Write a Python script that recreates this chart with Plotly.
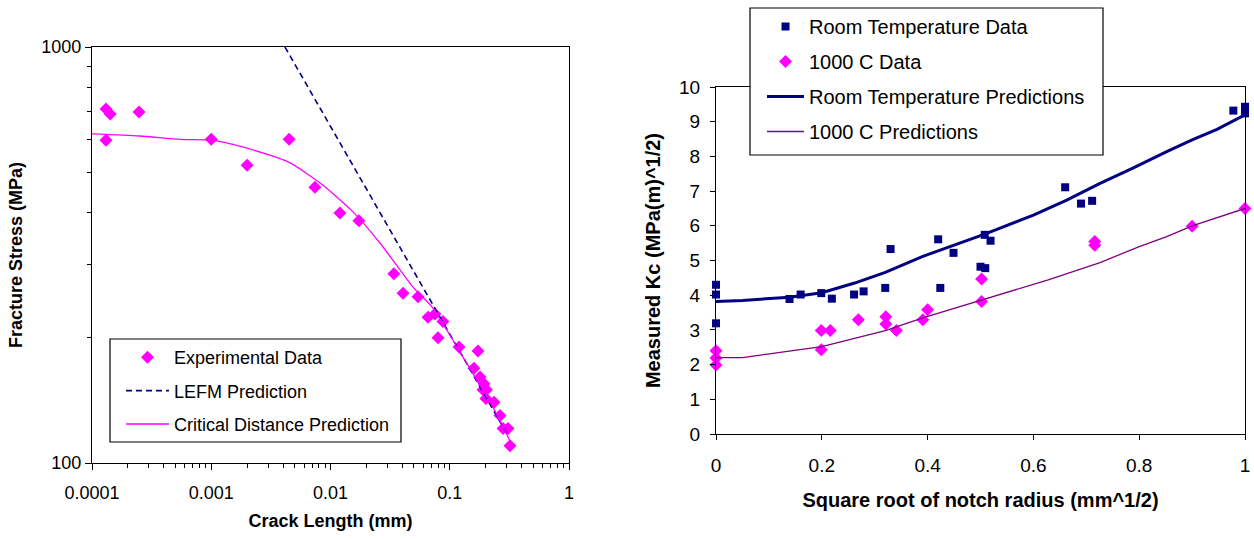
import plotly.graph_objects as go

# ---------------- Left chart data ----------------
exp_crack = [0.000131, 0.000142, 0.000248, 0.000131, 0.001, 0.002, 0.0045, 0.0074,
             0.012, 0.0173, 0.034, 0.0406, 0.0542, 0.0658, 0.0751, 0.0877, 0.0797,
             0.1197, 0.1726, 0.1596, 0.1795, 0.194, 0.190, 0.203, 0.201, 0.235,
             0.264, 0.280, 0.308, 0.320]
exp_stress = [710, 690, 698, 597, 600, 520, 600, 460,
              399, 382, 285, 256, 251, 224, 228, 219, 200,
              190, 186, 169, 161, 155, 150, 150, 143, 140,
              130, 121, 121, 110]

lefm_crack = [0.00415, 0.31]
lefm_stress = [1000, 116]

cd_crack = [0.0001, 0.00025, 0.00055, 0.001, 0.002, 0.0045, 0.0086, 0.0155,
            0.026, 0.049, 0.072, 0.115, 0.169, 0.231, 0.32]
cd_stress = [618, 611, 600, 597, 571, 528, 466, 401,
             338, 265, 236, 190, 158, 136, 113]

left_xticks = [0.0001, 0.001, 0.01, 0.1, 1]
left_xticktext = ["0.0001", "0.001", "0.01", "0.1", "1"]
left_yticks = [100, 1000]
left_yticktext = ["100", "1000"]

# ---------------- Right chart data ----------------
rt_x = [0, 0, 0, 0.139, 0.160, 0.199, 0.219, 0.261, 0.279, 0.320, 0.330,
        0.420, 0.424, 0.449, 0.500, 0.509, 0.508, 0.519, 0.660, 0.690, 0.711,
        0.978, 1.0, 1.0]
rt_y = [4.30, 4.02, 3.19, 3.89, 4.02, 4.06, 3.90, 4.02, 4.11, 4.21, 5.33,
        5.61, 4.21, 5.22, 4.82, 4.78, 5.74, 5.57, 7.11, 6.64, 6.72,
        9.32, 9.43, 9.24]

ht_x = [0, 0, 0, 0.199, 0.216, 0.199, 0.269, 0.321, 0.321, 0.341, 0.391,
        0.400, 0.502, 0.502, 0.716, 0.716, 0.900, 1.0]
ht_y = [2.40, 2.19, 1.99, 2.98, 2.98, 2.43, 3.29, 3.38, 3.17, 2.98, 3.29,
        3.58, 4.47, 3.82, 5.55, 5.44, 5.99, 6.50]

rt_pred_x = [0, 0.05, 0.139, 0.2, 0.262, 0.32, 0.391, 0.449, 0.508, 0.6,
             0.663, 0.726, 0.788, 0.852, 0.899, 0.947, 1.0]
rt_pred_y = [3.82, 3.85, 3.94, 4.07, 4.35, 4.66, 5.12, 5.43, 5.76, 6.31,
             6.74, 7.22, 7.66, 8.14, 8.47, 8.78, 9.2]

ht_pred_x = [0, 0.05, 0.2, 0.32, 0.391, 0.502, 0.6, 0.628, 0.726, 0.8, 0.852, 0.9, 1.0]
ht_pred_y = [2.2, 2.2, 2.52, 2.98, 3.35, 3.86, 4.3, 4.44, 4.94, 5.4, 5.69, 6.0, 6.5]

FONT = "Liberation Sans, Arial, sans-serif"
W, H = 1254, 539


def px_x(p):
    return p / W


def px_y(p):
    return 1 - p / H


fig = go.Figure()

# Left chart traces
fig.add_trace(go.Scatter(x=exp_crack, y=exp_stress, mode="markers", name="Experimental Data",
                         marker=dict(symbol="diamond", size=10, color="#FF00FF"),
                         xaxis="x", yaxis="y", legend="legend", legendgroup="a",
                         cliponaxis=False))
fig.add_trace(go.Scatter(x=lefm_crack, y=lefm_stress, mode="lines", name="LEFM Prediction",
                         line=dict(color="#000080", width=1.6, dash="6px,4px"),
                         xaxis="x", yaxis="y", legend="legend", legendgroup="b"))
fig.add_trace(go.Scatter(x=cd_crack, y=cd_stress, mode="lines", name="Critical Distance Prediction",
                         line=dict(color="#FF00FF", width=1.3, shape="spline", smoothing=0.6),
                         xaxis="x", yaxis="y", legend="legend", legendgroup="c"))

# Right chart traces
fig.add_trace(go.Scatter(x=rt_x, y=rt_y, mode="markers", name="Room Temperature Data",
                         marker=dict(symbol="square", size=8, color="#000080"),
                         xaxis="x2", yaxis="y2", legend="legend2", legendgroup="d",
                         cliponaxis=False))
fig.add_trace(go.Scatter(x=ht_x, y=ht_y, mode="markers", name="1000 C Data",
                         marker=dict(symbol="diamond", size=10, color="#FF00FF"),
                         xaxis="x2", yaxis="y2", legend="legend2", legendgroup="e",
                         cliponaxis=False))
fig.add_trace(go.Scatter(x=rt_pred_x, y=rt_pred_y, mode="lines", name="Room Temperature Predictions",
                         line=dict(color="#000080", width=3),
                         xaxis="x2", yaxis="y2", legend="legend2", legendgroup="f"))
fig.add_trace(go.Scatter(x=ht_pred_x, y=ht_pred_y, mode="lines", name="1000 C Predictions",
                         line=dict(color="#800080", width=1.3),
                         xaxis="x2", yaxis="y2", legend="legend2", legendgroup="g"))

left_minor_x = [k * 10 ** e for e in range(-4, 0) for k in range(2, 10)]
left_minor_y = [k * 100 for k in range(2, 10)]

axis_common = dict(showline=True, linecolor="black", linewidth=1.2, mirror=True,
                   showgrid=False, zeroline=False, ticks="outside", tickcolor="black",
                   tickwidth=1.2, automargin=False)

# legend frames drawn as rectangles (pixel boxes)
legend_boxes = [(110, 339, 401, 442), (750, 8, 1103, 155)]
shapes = [dict(type="rect", xref="paper", yref="paper",
               x0=px_x(x0), x1=px_x(x1), y0=px_y(y1), y1=px_y(y0),
               line=dict(color="black", width=1.2), fillcolor="white", layer="above")
          for (x0, y0, x1, y1) in legend_boxes]

fig.update_layout(
    width=W, height=H,
    margin=dict(l=0, r=0, t=0, b=0, autoexpand=False),
    paper_bgcolor="white", plot_bgcolor="white",
    font=dict(family=FONT, color="black"),
    shapes=shapes,
    xaxis=dict(**axis_common, type="log", range=[-4, 0],
               domain=[px_x(92), px_x(569)], anchor="y",
               tickmode="array", tickvals=left_xticks, ticktext=left_xticktext,
               ticklen=6, tickfont=dict(size=18), ticklabelstandoff=7,
               minor=dict(tickmode="array", tickvals=left_minor_x, ticks="outside",
                          ticklen=4, tickcolor="black", showgrid=False),
               title=dict(text="<b>Crack Length (mm)</b>", font=dict(size=18), standoff=12)),
    yaxis=dict(**axis_common, type="log", range=[2, 3],
               domain=[px_y(463), px_y(47)], anchor="x",
               tickmode="array", tickvals=left_yticks, ticktext=left_yticktext,
               ticklen=6, tickfont=dict(size=18), ticklabelstandoff=0,
               minor=dict(tickmode="array", tickvals=left_minor_y, ticks="outside",
                          ticklen=4, tickcolor="black", showgrid=False),
               title=dict(text="<b>Fracture Stress (MPa)</b>", font=dict(size=18), standoff=13)),
    xaxis2=dict(**axis_common, range=[0, 1],
                domain=[px_x(716), px_x(1245)], anchor="y2",
                tickmode="array", tickvals=[0, 0.2, 0.4, 0.6, 0.8, 1],
                ticktext=["0", "0.2", "0.4", "0.6", "0.8", "1"],
                ticklen=5, tickfont=dict(size=19), ticklabelstandoff=9,
                title=dict(text="<b>Square root of notch radius (mm^1/2)</b>",
                           font=dict(size=20), standoff=18)),
    yaxis2=dict(**axis_common, range=[0, 10],
                domain=[px_y(434), px_y(87)], anchor="x2",
                tickmode="array", tickvals=list(range(0, 11)),
                ticktext=[str(v) for v in range(0, 11)],
                ticklen=5, tickfont=dict(size=19), ticklabelstandoff=6,
                title=dict(text="<b>Measured Kc (MPa(m)^1/2)</b>",
                           font=dict(size=20), standoff=12)),
    legend=dict(x=px_x(121), y=px_y(339), xanchor="left", yanchor="top",
                borderwidth=0, bgcolor="rgba(0,0,0,0)",
                font=dict(size=18, family=FONT), traceorder="grouped",
                tracegroupgap=7, itemwidth=43),
    legend2=dict(x=px_x(762), y=px_y(7), xanchor="left", yanchor="top",
                 borderwidth=0, bgcolor="rgba(0,0,0,0)",
                 font=dict(size=20, family=FONT), traceorder="grouped",
                 tracegroupgap=6, itemwidth=37),
    showlegend=True,
)

fig.write_html("out.html", config={"displayModeBar": False})
with open("out.html", "r", encoding="utf-8") as f:
    html = f.read()
html = html.replace("<body>", '<body style="margin:0;padding:0;overflow:hidden">', 1)
with open("out.html", "w", encoding="utf-8") as f:
    f.write(html)
